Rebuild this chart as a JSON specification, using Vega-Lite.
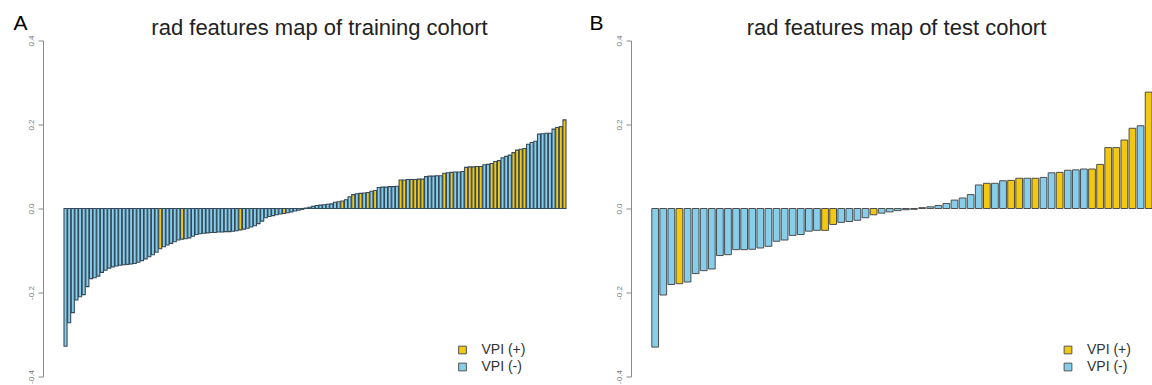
{
  "$schema": "https://vega.github.io/schema/vega-lite/v6.json",
  "background": "white",
  "padding": {"left": 13, "top": 12.5, "right": 0, "bottom": 0},
  "bounds": "flush",
  "spacing": 43,
  "config": {"view": {"stroke": null}, "font": "Liberation Sans"},
  "resolve": {"scale": {"x": "independent", "y": "independent", "fill": "independent"}, "legend": {"fill": "independent"}},
  "datasets": {
    "train": [
      {"idx":0,"value":-0.328,"VPI":"VPI (-)"},{"idx":1,"value":-0.272,"VPI":"VPI (-)"},{"idx":2,"value":-0.248,"VPI":"VPI (-)"},{"idx":3,"value":-0.218,"VPI":"VPI (-)"},{"idx":4,"value":-0.210,"VPI":"VPI (-)"},{"idx":5,"value":-0.205,"VPI":"VPI (-)"},{"idx":6,"value":-0.186,"VPI":"VPI (-)"},{"idx":7,"value":-0.167,"VPI":"VPI (-)"},{"idx":8,"value":-0.165,"VPI":"VPI (-)"},{"idx":9,"value":-0.161,"VPI":"VPI (-)"},
      {"idx":10,"value":-0.152,"VPI":"VPI (-)"},{"idx":11,"value":-0.147,"VPI":"VPI (-)"},{"idx":12,"value":-0.142,"VPI":"VPI (-)"},{"idx":13,"value":-0.139,"VPI":"VPI (-)"},{"idx":14,"value":-0.137,"VPI":"VPI (-)"},{"idx":15,"value":-0.135,"VPI":"VPI (-)"},{"idx":16,"value":-0.134,"VPI":"VPI (-)"},{"idx":17,"value":-0.133,"VPI":"VPI (-)"},{"idx":18,"value":-0.132,"VPI":"VPI (-)"},{"idx":19,"value":-0.131,"VPI":"VPI (-)"},
      {"idx":20,"value":-0.128,"VPI":"VPI (-)"},{"idx":21,"value":-0.124,"VPI":"VPI (-)"},{"idx":22,"value":-0.120,"VPI":"VPI (-)"},{"idx":23,"value":-0.115,"VPI":"VPI (-)"},{"idx":24,"value":-0.110,"VPI":"VPI (-)"},{"idx":25,"value":-0.104,"VPI":"VPI (-)"},{"idx":26,"value":-0.096,"VPI":"VPI (+)"},{"idx":27,"value":-0.091,"VPI":"VPI (-)"},{"idx":28,"value":-0.087,"VPI":"VPI (-)"},{"idx":29,"value":-0.083,"VPI":"VPI (-)"},
      {"idx":30,"value":-0.079,"VPI":"VPI (-)"},{"idx":31,"value":-0.075,"VPI":"VPI (-)"},{"idx":32,"value":-0.073,"VPI":"VPI (+)"},{"idx":33,"value":-0.072,"VPI":"VPI (-)"},{"idx":34,"value":-0.070,"VPI":"VPI (-)"},{"idx":35,"value":-0.066,"VPI":"VPI (-)"},{"idx":36,"value":-0.062,"VPI":"VPI (-)"},{"idx":37,"value":-0.060,"VPI":"VPI (-)"},{"idx":38,"value":-0.059,"VPI":"VPI (-)"},{"idx":39,"value":-0.058,"VPI":"VPI (-)"},
      {"idx":40,"value":-0.057,"VPI":"VPI (-)"},{"idx":41,"value":-0.057,"VPI":"VPI (-)"},{"idx":42,"value":-0.056,"VPI":"VPI (-)"},{"idx":43,"value":-0.056,"VPI":"VPI (-)"},{"idx":44,"value":-0.055,"VPI":"VPI (-)"},{"idx":45,"value":-0.055,"VPI":"VPI (-)"},{"idx":46,"value":-0.054,"VPI":"VPI (-)"},{"idx":47,"value":-0.053,"VPI":"VPI (-)"},{"idx":48,"value":-0.051,"VPI":"VPI (+)"},{"idx":49,"value":-0.049,"VPI":"VPI (-)"},
      {"idx":50,"value":-0.047,"VPI":"VPI (-)"},{"idx":51,"value":-0.044,"VPI":"VPI (-)"},{"idx":52,"value":-0.041,"VPI":"VPI (-)"},{"idx":53,"value":-0.036,"VPI":"VPI (-)"},{"idx":54,"value":-0.030,"VPI":"VPI (-)"},{"idx":55,"value":-0.022,"VPI":"VPI (-)"},{"idx":56,"value":-0.019,"VPI":"VPI (-)"},{"idx":57,"value":-0.017,"VPI":"VPI (-)"},{"idx":58,"value":-0.015,"VPI":"VPI (-)"},{"idx":59,"value":-0.013,"VPI":"VPI (-)"},
      {"idx":60,"value":-0.012,"VPI":"VPI (+)"},{"idx":61,"value":-0.010,"VPI":"VPI (-)"},{"idx":62,"value":-0.008,"VPI":"VPI (-)"},{"idx":63,"value":-0.006,"VPI":"VPI (-)"},{"idx":64,"value":-0.004,"VPI":"VPI (-)"},{"idx":65,"value":-0.002,"VPI":"VPI (-)"},{"idx":66,"value":0.001,"VPI":"VPI (-)"},{"idx":67,"value":0.003,"VPI":"VPI (-)"},{"idx":68,"value":0.005,"VPI":"VPI (-)"},{"idx":69,"value":0.007,"VPI":"VPI (-)"},
      {"idx":70,"value":0.008,"VPI":"VPI (-)"},{"idx":71,"value":0.009,"VPI":"VPI (-)"},{"idx":72,"value":0.010,"VPI":"VPI (-)"},{"idx":73,"value":0.011,"VPI":"VPI (-)"},{"idx":74,"value":0.015,"VPI":"VPI (-)"},{"idx":75,"value":0.016,"VPI":"VPI (-)"},{"idx":76,"value":0.018,"VPI":"VPI (+)"},{"idx":77,"value":0.021,"VPI":"VPI (-)"},{"idx":78,"value":0.028,"VPI":"VPI (-)"},{"idx":79,"value":0.033,"VPI":"VPI (+)"},
      {"idx":80,"value":0.035,"VPI":"VPI (-)"},{"idx":81,"value":0.036,"VPI":"VPI (+)"},{"idx":82,"value":0.037,"VPI":"VPI (-)"},{"idx":83,"value":0.038,"VPI":"VPI (+)"},{"idx":84,"value":0.041,"VPI":"VPI (-)"},{"idx":85,"value":0.043,"VPI":"VPI (+)"},{"idx":86,"value":0.050,"VPI":"VPI (-)"},{"idx":87,"value":0.051,"VPI":"VPI (-)"},{"idx":88,"value":0.051,"VPI":"VPI (-)"},{"idx":89,"value":0.052,"VPI":"VPI (-)"},
      {"idx":90,"value":0.052,"VPI":"VPI (-)"},{"idx":91,"value":0.053,"VPI":"VPI (-)"},{"idx":92,"value":0.068,"VPI":"VPI (+)"},{"idx":93,"value":0.068,"VPI":"VPI (+)"},{"idx":94,"value":0.069,"VPI":"VPI (-)"},{"idx":95,"value":0.069,"VPI":"VPI (+)"},{"idx":96,"value":0.069,"VPI":"VPI (+)"},{"idx":97,"value":0.070,"VPI":"VPI (+)"},{"idx":98,"value":0.070,"VPI":"VPI (+)"},{"idx":99,"value":0.076,"VPI":"VPI (-)"},
      {"idx":100,"value":0.077,"VPI":"VPI (-)"},{"idx":101,"value":0.077,"VPI":"VPI (-)"},{"idx":102,"value":0.078,"VPI":"VPI (-)"},{"idx":103,"value":0.078,"VPI":"VPI (-)"},{"idx":104,"value":0.084,"VPI":"VPI (+)"},{"idx":105,"value":0.085,"VPI":"VPI (-)"},{"idx":106,"value":0.086,"VPI":"VPI (+)"},{"idx":107,"value":0.087,"VPI":"VPI (-)"},{"idx":108,"value":0.087,"VPI":"VPI (-)"},{"idx":109,"value":0.088,"VPI":"VPI (-)"},
      {"idx":110,"value":0.098,"VPI":"VPI (+)"},{"idx":111,"value":0.099,"VPI":"VPI (+)"},{"idx":112,"value":0.099,"VPI":"VPI (+)"},{"idx":113,"value":0.100,"VPI":"VPI (+)"},{"idx":114,"value":0.100,"VPI":"VPI (+)"},{"idx":115,"value":0.104,"VPI":"VPI (-)"},{"idx":116,"value":0.105,"VPI":"VPI (-)"},{"idx":117,"value":0.107,"VPI":"VPI (+)"},{"idx":118,"value":0.112,"VPI":"VPI (+)"},{"idx":119,"value":0.114,"VPI":"VPI (+)"},
      {"idx":120,"value":0.121,"VPI":"VPI (-)"},{"idx":121,"value":0.124,"VPI":"VPI (-)"},{"idx":122,"value":0.127,"VPI":"VPI (-)"},{"idx":123,"value":0.133,"VPI":"VPI (+)"},{"idx":124,"value":0.139,"VPI":"VPI (+)"},{"idx":125,"value":0.141,"VPI":"VPI (+)"},{"idx":126,"value":0.143,"VPI":"VPI (+)"},{"idx":127,"value":0.153,"VPI":"VPI (-)"},{"idx":128,"value":0.157,"VPI":"VPI (-)"},{"idx":129,"value":0.160,"VPI":"VPI (-)"},
      {"idx":130,"value":0.177,"VPI":"VPI (-)"},{"idx":131,"value":0.178,"VPI":"VPI (-)"},{"idx":132,"value":0.179,"VPI":"VPI (-)"},{"idx":133,"value":0.179,"VPI":"VPI (-)"},{"idx":134,"value":0.189,"VPI":"VPI (-)"},{"idx":135,"value":0.193,"VPI":"VPI (+)"},{"idx":136,"value":0.195,"VPI":"VPI (+)"},{"idx":137,"value":0.211,"VPI":"VPI (+)"}
    ],
    "test": [
      {"idx":0,"value":-0.330,"VPI":"VPI (-)"},{"idx":1,"value":-0.206,"VPI":"VPI (-)"},{"idx":2,"value":-0.181,"VPI":"VPI (-)"},{"idx":3,"value":-0.179,"VPI":"VPI (+)"},{"idx":4,"value":-0.175,"VPI":"VPI (-)"},{"idx":5,"value":-0.155,"VPI":"VPI (-)"},{"idx":6,"value":-0.148,"VPI":"VPI (-)"},{"idx":7,"value":-0.144,"VPI":"VPI (-)"},{"idx":8,"value":-0.112,"VPI":"VPI (-)"},{"idx":9,"value":-0.110,"VPI":"VPI (-)"},
      {"idx":10,"value":-0.098,"VPI":"VPI (-)"},{"idx":11,"value":-0.098,"VPI":"VPI (-)"},{"idx":12,"value":-0.097,"VPI":"VPI (-)"},{"idx":13,"value":-0.094,"VPI":"VPI (-)"},{"idx":14,"value":-0.090,"VPI":"VPI (-)"},{"idx":15,"value":-0.078,"VPI":"VPI (-)"},{"idx":16,"value":-0.075,"VPI":"VPI (-)"},{"idx":17,"value":-0.064,"VPI":"VPI (-)"},{"idx":18,"value":-0.062,"VPI":"VPI (-)"},{"idx":19,"value":-0.054,"VPI":"VPI (-)"},
      {"idx":20,"value":-0.052,"VPI":"VPI (-)"},{"idx":21,"value":-0.052,"VPI":"VPI (+)"},{"idx":22,"value":-0.038,"VPI":"VPI (+)"},{"idx":23,"value":-0.033,"VPI":"VPI (-)"},{"idx":24,"value":-0.031,"VPI":"VPI (-)"},{"idx":25,"value":-0.028,"VPI":"VPI (-)"},{"idx":26,"value":-0.022,"VPI":"VPI (-)"},{"idx":27,"value":-0.015,"VPI":"VPI (+)"},{"idx":28,"value":-0.011,"VPI":"VPI (-)"},{"idx":29,"value":-0.008,"VPI":"VPI (-)"},
      {"idx":30,"value":-0.005,"VPI":"VPI (-)"},{"idx":31,"value":-0.003,"VPI":"VPI (-)"},{"idx":32,"value":-0.002,"VPI":"VPI (-)"},{"idx":33,"value":0.002,"VPI":"VPI (-)"},{"idx":34,"value":0.004,"VPI":"VPI (-)"},{"idx":35,"value":0.007,"VPI":"VPI (-)"},{"idx":36,"value":0.012,"VPI":"VPI (-)"},{"idx":37,"value":0.020,"VPI":"VPI (-)"},{"idx":38,"value":0.025,"VPI":"VPI (-)"},{"idx":39,"value":0.033,"VPI":"VPI (-)"},
      {"idx":40,"value":0.056,"VPI":"VPI (-)"},{"idx":41,"value":0.060,"VPI":"VPI (+)"},{"idx":42,"value":0.060,"VPI":"VPI (-)"},{"idx":43,"value":0.066,"VPI":"VPI (-)"},{"idx":44,"value":0.067,"VPI":"VPI (+)"},{"idx":45,"value":0.072,"VPI":"VPI (+)"},{"idx":46,"value":0.072,"VPI":"VPI (-)"},{"idx":47,"value":0.072,"VPI":"VPI (+)"},{"idx":48,"value":0.074,"VPI":"VPI (-)"},{"idx":49,"value":0.085,"VPI":"VPI (-)"},
      {"idx":50,"value":0.086,"VPI":"VPI (+)"},{"idx":51,"value":0.091,"VPI":"VPI (-)"},{"idx":52,"value":0.092,"VPI":"VPI (-)"},{"idx":53,"value":0.094,"VPI":"VPI (-)"},{"idx":54,"value":0.094,"VPI":"VPI (+)"},{"idx":55,"value":0.105,"VPI":"VPI (+)"},{"idx":56,"value":0.145,"VPI":"VPI (+)"},{"idx":57,"value":0.145,"VPI":"VPI (+)"},{"idx":58,"value":0.163,"VPI":"VPI (+)"},{"idx":59,"value":0.191,"VPI":"VPI (+)"},
      {"idx":60,"value":0.197,"VPI":"VPI (-)"},{"idx":61,"value":0.277,"VPI":"VPI (+)"}
    ]
  },
  "hconcat": [
    {
      "data": {"name": "train"},
      "width": 545,
      "height": 336,
      "mark": {"type": "bar", "stroke": "#34495a", "strokeWidth": 1.1},
      "encoding": {
        "x": {"field": "idx", "type": "ordinal", "scale": {"range": [21, 523], "paddingInner": 0.167, "paddingOuter": 0},
          "axis": {"orient": "top", "labels": false, "ticks": false, "domain": false, "title": "rad features map of training cohort", "titleFontSize": 22, "titleFontWeight": "normal", "titleColor": "#222", "titleX": 276, "titleY": -5.7, "titleAlign": "center", "titleBaseline": "alphabetic"}},
        "y": {"field": "value", "type": "quantitative", "scale": {"domain": [-0.4, 0.4], "nice": false},
          "axis": {"values": [-0.4, -0.2, 0, 0.2, 0.4], "labelExpr": "datum.value < 0 ? '-' + format(-datum.value, '.1f') : format(datum.value, '.1f')", "labelAngle": 270, "labelAlign": "center", "labelBaseline": "bottom", "labelFontSize": 8, "labelColor": "#777", "labelPadding": 3, "tickSize": 5, "tickColor": "#8a8a8a", "domainColor": "#8a8a8a", "grid": false,
            "title": "A", "titleAngle": 0, "titleX": -30, "titleY": -10.7, "titleAlign": "left", "titleBaseline": "alphabetic", "titleFontSize": 21, "titleFontWeight": "normal", "titleColor": "#000"}},
        "fill": {"field": "VPI", "type": "nominal", "scale": {"domain": ["VPI (+)", "VPI (-)"], "range": ["#F2C811", "#87CEEB"]},
          "legend": {"title": null, "orient": "none", "legendX": 412.5, "legendY": 302.5, "padding": 0, "symbolType": "square", "symbolSize": 60, "symbolStrokeColor": "#555", "symbolStrokeWidth": 1, "labelFontSize": 14, "labelColor": "#333", "labelOffset": 12, "rowPadding": 3}}
      }
    },
    {
      "data": {"name": "test"},
      "width": 521,
      "height": 336,
      "mark": {"type": "bar", "stroke": "#4d4d4d", "strokeWidth": 1},
      "encoding": {
        "x": {"field": "idx", "type": "ordinal", "scale": {"range": [20.8, 521], "paddingInner": 0.167, "paddingOuter": 0},
          "axis": {"orient": "top", "labels": false, "ticks": false, "domain": false, "title": "rad features map of test cohort", "titleFontSize": 22, "titleFontWeight": "normal", "titleColor": "#222", "titleX": 265, "titleY": -5.7, "titleAlign": "center", "titleBaseline": "alphabetic"}},
        "y": {"field": "value", "type": "quantitative", "scale": {"domain": [-0.4, 0.4], "nice": false},
          "axis": {"values": [-0.4, -0.2, 0, 0.2, 0.4], "labelExpr": "datum.value < 0 ? '-' + format(-datum.value, '.1f') : format(datum.value, '.1f')", "labelAngle": 270, "labelAlign": "center", "labelBaseline": "bottom", "labelFontSize": 8, "labelColor": "#777", "labelPadding": 3, "tickSize": 5, "tickColor": "#8a8a8a", "domainColor": "#8a8a8a", "grid": false,
            "title": "B", "titleAngle": 0, "titleX": -42, "titleY": -10.7, "titleAlign": "left", "titleBaseline": "alphabetic", "titleFontSize": 21, "titleFontWeight": "normal", "titleColor": "#000"}},
        "fill": {"field": "VPI", "type": "nominal", "scale": {"domain": ["VPI (+)", "VPI (-)"], "range": ["#F2C811", "#87CEEB"]},
          "legend": {"title": null, "orient": "none", "legendX": 430, "legendY": 302.5, "padding": 0, "symbolType": "square", "symbolSize": 60, "symbolStrokeColor": "#555", "symbolStrokeWidth": 1, "labelFontSize": 14, "labelColor": "#333", "labelOffset": 12, "rowPadding": 3}}
      }
    }
  ]
}
